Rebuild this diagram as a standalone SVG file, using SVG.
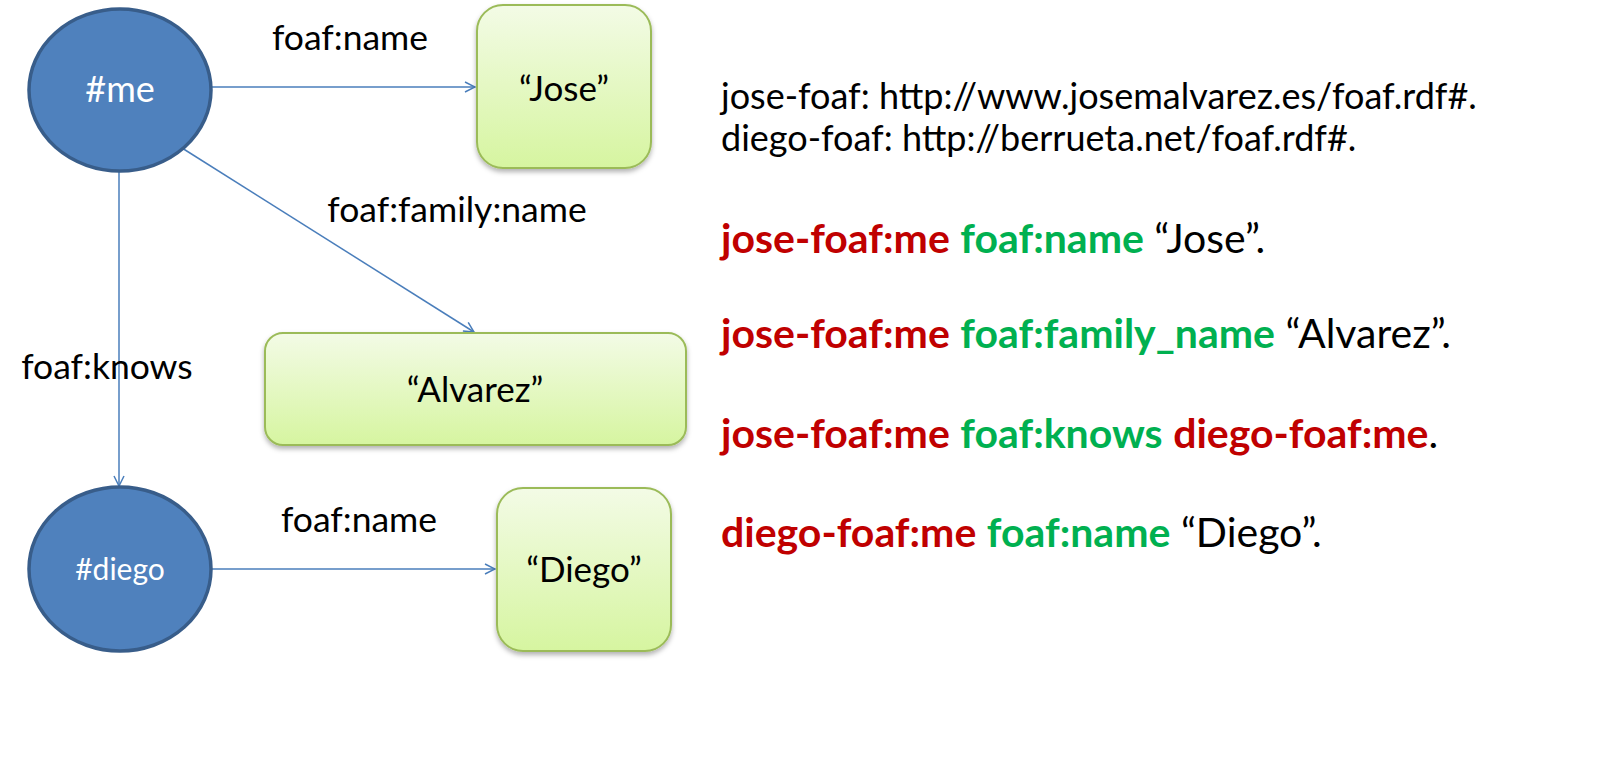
<svg xmlns="http://www.w3.org/2000/svg" width="1600" height="778" viewBox="0 0 1600 778">
<defs>
<linearGradient id="lg" x1="0" y1="0" x2="0" y2="1">
<stop offset="0" stop-color="#F3FBE6"/>
<stop offset="1" stop-color="#D6F5A0"/>
</linearGradient>
<filter id="sh" x="-10%" y="-10%" width="120%" height="130%">
<feDropShadow dx="0" dy="3" stdDeviation="2.5" flood-color="#000" flood-opacity="0.3"/>
</filter>
<marker id="ah" viewBox="0 0 12 12" refX="11" refY="6" markerWidth="12" markerHeight="12" markerUnits="userSpaceOnUse" orient="auto">
<path d="M1,1 L11,6 L1,11" fill="none" stroke="#4A7EBB" stroke-width="1.5"/>
</marker>
<style>
text{font-family:Lato,"Liberation Sans",sans-serif}
.lbl{font-size:35.5px;fill:#000}
.ell{fill:#4F81BD;stroke:#385D8A;stroke-width:3.5}
.box{fill:url(#lg);stroke:#9BBB59;stroke-width:2;filter:url(#sh)}
.wt{fill:#fff;text-anchor:middle}
.bt{font-size:35px;fill:#000;text-anchor:middle}
.conn{fill:none;stroke:#4A7EBB;stroke-width:1.5;marker-end:url(#ah)}
.rt{font-size:36px;fill:#000}
.rb{font-size:41px;fill:#000}
.r{fill:#C00000;font-weight:bold}
.g{fill:#00B050;font-weight:bold}
</style>
</defs>
<g id="connectors">
<line class="conn" x1="211" y1="87" x2="475" y2="87"/>
<line class="conn" x1="182" y1="148" x2="474" y2="332"/>
<line class="conn" x1="119" y1="171" x2="119" y2="486"/>
<line class="conn" x1="211" y1="569" x2="495" y2="569"/>
<text class="lbl" x="350" y="50" text-anchor="middle">foaf:name</text>
<text class="lbl" x="457" y="222" text-anchor="middle">foaf:family:name</text>
<text class="lbl" x="107" y="379" text-anchor="middle">foaf:knows</text>
<text class="lbl" x="359" y="532" text-anchor="middle">foaf:name</text>
</g>
<g id="me">
<ellipse class="ell" cx="120" cy="90" rx="91" ry="81"/>
<text class="wt" x="120" y="102" style="font-size:36px">#me</text>
</g>
<g id="diego">
<ellipse class="ell" cx="120" cy="569" rx="91" ry="82"/>
<text class="wt" x="120" y="580" style="font-size:30px">#diego</text>
</g>
<g id="jose-lit">
<rect class="box" x="477" y="5" width="174" height="163" rx="26"/>
<text class="bt" x="564" y="101">“Jose”</text>
</g>
<g id="alvarez-lit">
<rect class="box" x="265" y="333" width="421" height="112" rx="18"/>
<text class="bt" x="475" y="402">“Alvarez”</text>
</g>
<g id="diego-lit">
<rect class="box" x="497" y="488" width="174" height="163" rx="26"/>
<text class="bt" x="584" y="582">“Diego”</text>
</g>
<g id="triples">
<text class="rt" x="721" y="109">jose-foaf: http://www.josemalvarez.es/foaf.rdf#.</text>
<text class="rt" x="721" y="151">diego-foaf: http://berrueta.net/foaf.rdf#.</text>
<text class="rb" x="721" y="253"><tspan class="r">jose-foaf:me</tspan> <tspan class="g">foaf:name</tspan> “Jose”.</text>
<text class="rb" x="721" y="348"><tspan class="r">jose-foaf:me</tspan> <tspan class="g">foaf:family_name</tspan> “Alvarez”.</text>
<text class="rb" x="721" y="448"><tspan class="r">jose-foaf:me</tspan> <tspan class="g">foaf:knows</tspan> <tspan class="r">diego-foaf:me</tspan>.</text>
<text class="rb" x="721" y="547"><tspan class="r">diego-foaf:me</tspan> <tspan class="g">foaf:name</tspan> “Diego”.</text>
</g>
</svg>
